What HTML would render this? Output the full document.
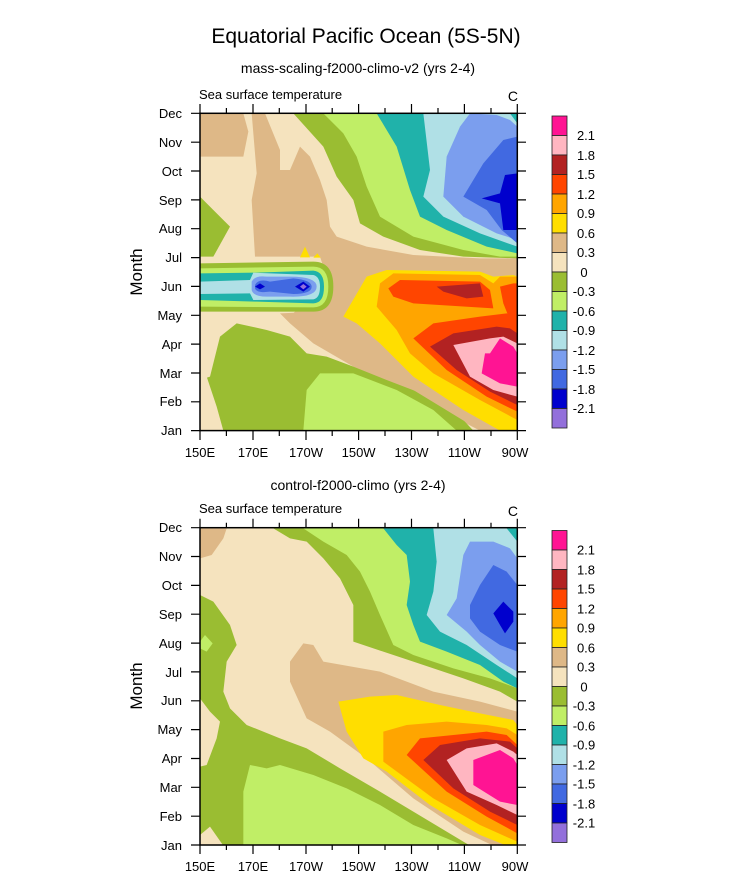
<!DOCTYPE html>
<html><head><meta charset="utf-8"><style>
html,body{margin:0;padding:0;background:#fff;}
svg{display:block;font-family:"Liberation Sans",Arial,sans-serif;}
</style></head><body>
<svg width="732" height="882" viewBox="0 0 732 882" xmlns="http://www.w3.org/2000/svg">
<defs>
<clipPath id="c1"><rect x="60" y="70" width="952" height="952"/></clipPath>
</defs>
<text x="366" y="43" font-size="21" text-anchor="middle">Equatorial Pacific Ocean (5S-5N)</text>
<text x="358" y="73" font-size="14" text-anchor="middle">mass-scaling-f2000-climo-v2 (yrs 2-4)</text>
<text x="358" y="490" font-size="14" text-anchor="middle">control-f2000-climo (yrs 2-4)</text>

<!-- TOP PLOT -->
<g transform="translate(180,90) scale(0.33333)">
<g clip-path="url(#c1)">
<rect x="60" y="70" width="952" height="952" fill="#F5E3BE"/>
<polygon fill="#DEB887" points="60,70 190,70 205,125 190,200 60,200"/>
<polygon fill="#DEB887" points="215,70 255,70 300,180 300,240 330,240 360,170 390,200 420,270 440,330 450,410 470,440 560,470 700,495 900,505 1012,505 1012,1022 900,1022 780,960 650,890 520,830 400,760 330,700 300,670 420,665 440,560 420,500 225,500 215,330 230,250"/>
<polygon fill="#9ABD32" points="60,320 100,360 150,410 100,500 60,500"/>
<polygon fill="#9ABD32" points="340,70 1012,70 1012,505 850,500 720,480 610,440 540,400 520,330 470,260 430,170"/>
<polygon fill="#C0EE66" points="430,70 1012,70 1012,500 960,500 850,480 700,440 600,380 560,290 530,200 490,130"/>
<polygon fill="#20B2AA" points="590,70 1012,70 1012,490 920,470 800,420 720,380 690,300 650,170"/>
<polygon fill="#B0E0E6" points="730,70 990,70 1012,100 1012,470 900,430 790,380 730,320 750,240"/>
<polygon fill="#7B9EEE" points="870,70 950,75 990,90 1012,110 1012,450 950,430 850,380 790,320 800,200 840,110"/>
<polygon fill="#4169E1" points="1012,140 970,150 910,220 850,320 920,360 965,420 1012,460"/>
<polygon fill="#0000CD" points="1012,250 975,255 960,310 905,325 960,340 970,420 1012,420"/>
<!-- lower left -->
<polygon fill="#9ABD32" points="60,1022 60,870 90,860 120,740 170,700 260,720 330,740 380,790 440,800 520,830 620,870 750,920 850,990 880,1022"/>
<polygon fill="#F5E3BE" points="60,850 80,860 110,950 130,1022 60,1022"/>
<polygon fill="#C0EE66" points="370,1022 380,900 420,850 520,850 650,900 760,960 830,1022"/>
<!-- warm -->
<polygon fill="#DEB887" points="340,670 440,560 560,540 800,525 1012,520 1012,1022 900,1022 700,900 500,790 400,720"/>
<polygon fill="#FFDE00" points="490,680 560,560 620,540 900,545 940,560 1000,555 1012,560 1012,1022 960,1022 850,960 700,860 600,760 530,700"/>
<polygon fill="#FFA500" points="600,580 640,550 900,555 940,580 960,560 1012,560 1012,990 900,930 760,850 690,790 650,720 590,650"/>
<polygon fill="#FF4500" points="625,595 660,570 900,575 930,600 940,655 700,640 640,620"/>
<polygon fill="#FF4500" points="960,590 1000,580 1012,580 1012,700 990,690 970,640"/>
<polygon fill="#FF4500" points="700,745 760,700 900,680 980,670 1012,680 1012,965 920,920 800,840"/>
<polygon fill="#B22222" points="750,770 820,730 950,710 990,715 1012,730 1012,945 930,905 830,840"/>
<polygon fill="#B22222" points="770,590 900,580 910,620 860,625 790,605"/>
<polygon fill="#FFB6C1" points="820,765 930,745 970,740 1012,760 1012,920 940,900 870,860"/>
<polygon fill="#FF1493" points="930,790 960,745 1000,770 1012,790 1012,890 960,880 905,850 915,790"/>
<!-- Jun band -->
<path fill="#9ABD32" d="M60,520 L400,515 Q460,515 460,590 Q460,665 400,665 L60,665 Z"/>
<path fill="#C0EE66" d="M60,535 L400,530 Q445,530 445,590 Q445,652 400,652 L60,650 Z"/>
<path fill="#20B2AA" d="M60,550 L230,548 L400,542 Q432,545 432,590 Q432,640 400,640 L230,635 L60,630 Z"/>
<path fill="#B0E0E6" d="M60,575 L210,570 L220,548 L400,555 Q420,560 420,590 Q420,625 400,628 L220,630 L210,610 L60,612 Z"/>
<path fill="#7B9EEE" d="M215,575 Q225,555 260,560 L330,560 Q410,560 410,590 Q410,622 330,620 L260,620 Q220,620 215,600 Z"/>
<path fill="#4169E1" d="M225,585 Q235,565 270,575 L340,565 Q395,570 395,590 Q395,612 340,612 L270,605 Q230,610 225,595 Z"/>
<polygon fill="#0000CD" points="225,590 240,580 255,590 240,598"/>
<polygon fill="#0000CD" points="345,590 370,575 390,590 370,605"/>
<polygon fill="#9370DB" points="360,590 370,582 380,590 370,598"/>
<polygon fill="#FFDE00" points="360,502 375,470 390,502"/>
<polygon fill="#FFDE00" points="400,503 412,490 422,503"/>
</g>
</g>

<!-- BOTTOM PLOT -->
<g transform="translate(180,505) scale(0.33333)">
<g clip-path="url(#c1)">
<rect x="60" y="70" width="952" height="952" fill="#F5E3BE"/>
<polygon fill="#DEB887" points="60,70 140,70 130,100 95,150 60,160"/>
<polygon fill="#9ABD32" points="280,70 1012,70 1012,590 960,560 850,520 700,470 520,410 520,300 480,220 430,160 380,110 330,100"/>
<polygon fill="#C0EE66" points="370,70 1012,70 1012,550 930,520 820,490 700,450 640,420 600,330 570,260 540,200 500,150 430,110"/>
<polygon fill="#20B2AA" points="610,70 1012,70 1012,550 970,530 900,480 800,440 720,410 700,360 680,300 690,230 680,150 650,120"/>
<polygon fill="#B0E0E6" points="760,70 980,70 1012,110 1012,520 950,480 860,420 780,380 740,330 760,260 770,170"/>
<polygon fill="#7B9EEE" points="870,110 940,110 990,130 1012,160 1012,500 960,470 900,420 860,380 800,330 830,280 850,150"/>
<polygon fill="#4169E1" points="940,180 980,200 1012,240 1012,440 960,420 900,380 870,340 870,300 900,240"/>
<polygon fill="#0000CD" points="970,290 1000,320 1000,350 975,385 960,360 940,325"/>
<polygon fill="#9ABD32" points="60,270 100,290 150,360 170,420 140,470 130,560 150,610 200,660 300,700 380,730 480,790 600,860 700,920 800,980 870,1022 60,1022"/>
<polygon fill="#F5E3BE" points="60,580 90,620 120,650 110,700 80,780 60,785"/>
<polygon fill="#F5E3BE" points="60,1022 60,990 90,965 130,1022"/>
<polygon fill="#C0EE66" points="60,410 75,390 98,415 80,440 60,430"/>
<polygon fill="#C0EE66" points="190,1022 190,860 210,780 260,790 300,780 400,810 500,850 600,900 700,960 800,1000 850,1022"/>
<polygon fill="#DEB887" points="370,415 400,420 430,470 600,500 760,560 900,590 1012,620 1012,1022 940,1022 850,980 700,880 560,760 450,680 380,640 330,530 330,470"/>
<polygon fill="#FFDE00" points="475,590 570,575 650,570 780,600 900,625 1000,645 1012,660 1012,1022 980,1022 900,990 750,900 620,800 550,760 500,680"/>
<polygon fill="#FFA500" points="610,680 680,660 800,650 920,660 980,670 1012,690 1012,1010 900,960 760,880 610,770"/>
<polygon fill="#FF4500" points="680,750 720,700 820,690 920,680 980,690 1012,720 1012,985 920,935 800,860"/>
<polygon fill="#B22222" points="730,765 780,720 900,700 990,710 1012,730 1012,960 930,920 820,850"/>
<polygon fill="#FFB6C1" points="800,765 860,730 950,715 1000,740 1012,750 1012,930 950,900 860,860"/>
<polygon fill="#FF1493" points="880,765 960,735 1000,760 1012,780 1012,900 960,890 880,840"/>
</g>
</g>

<!-- axes frames, ticks, labels -->
<g id="ax1" stroke="#000" fill="none">
<rect x="200" y="113.3" width="317.3" height="317.3" stroke-width="1.5"/>
<rect x="200" y="527.7" width="317.3" height="317.3" stroke-width="1.5"/>
</g>
<g stroke="#000" stroke-width="1.2">
<!-- top plot x ticks -->
<path d="M200,431v9M253,431v9M306,431v9M358.6,431v9M411.5,431v9M464.4,431v9M517.3,431v9
M226.4,431v5M279.3,431v5M332.2,431v5M385,431v5M438,431v5M491,431v5
M200,113v-9M253,113v-9M306,113v-9M358.6,113v-9M411.5,113v-9M464.4,113v-9M517.3,113v-9
M226.4,113v-5M279.3,113v-5M332.2,113v-5M385,113v-5M438,113v-5M491,113v-5"/>
<path d="M200,845v9M253,845v9M306,845v9M358.6,845v9M411.5,845v9M464.4,845v9M517.3,845v9
M226.4,845v5M279.3,845v5M332.2,845v5M385,845v5M438,845v5M491,845v5
M200,527.7v-9M253,527.7v-9M306,527.7v-9M358.6,527.7v-9M411.5,527.7v-9M464.4,527.7v-9M517.3,527.7v-9
M226.4,527.7v-5M279.3,527.7v-5M332.2,527.7v-5M385,527.7v-5M438,527.7v-5M491,527.7v-5"/>
<!-- y ticks -->
<path d="M191,113.3h9M191,142.2h9M191,171h9M191,199.9h9M191,228.7h9M191,257.6h9M191,286.4h9M191,315.3h9M191,344.1h9M191,373h9M191,401.8h9M191,430.6h9
M517,113.3h9M517,142.2h9M517,171h9M517,199.9h9M517,228.7h9M517,257.6h9M517,286.4h9M517,315.3h9M517,344.1h9M517,373h9M517,401.8h9M517,430.6h9"/>
<path d="M191,527.7h9M191,556.5h9M191,585.4h9M191,614.2h9M191,643.1h9M191,671.9h9M191,700.8h9M191,729.6h9M191,758.5h9M191,787.3h9M191,816.2h9M191,845h9
M517,527.7h9M517,556.5h9M517,585.4h9M517,614.2h9M517,643.1h9M517,671.9h9M517,700.8h9M517,729.6h9M517,758.5h9M517,787.3h9M517,816.2h9M517,845h9"/>
</g>
<g font-size="13" text-anchor="end">
<text x="182" y="118">Dec</text><text x="182" y="147">Nov</text><text x="182" y="176">Oct</text><text x="182" y="205">Sep</text><text x="182" y="233">Aug</text><text x="182" y="262">Jul</text><text x="182" y="291">Jun</text><text x="182" y="320">May</text><text x="182" y="349">Apr</text><text x="182" y="378">Mar</text><text x="182" y="406">Feb</text><text x="182" y="435">Jan</text>
<text x="182" y="532">Dec</text><text x="182" y="561">Nov</text><text x="182" y="590">Oct</text><text x="182" y="619">Sep</text><text x="182" y="648">Aug</text><text x="182" y="677">Jul</text><text x="182" y="705">Jun</text><text x="182" y="734">May</text><text x="182" y="763">Apr</text><text x="182" y="792">Mar</text><text x="182" y="821">Feb</text><text x="182" y="850">Jan</text>
</g>
<g font-size="13" text-anchor="middle">
<text x="200" y="457">150E</text><text x="253" y="457">170E</text><text x="306" y="457">170W</text><text x="358.6" y="457">150W</text><text x="411.5" y="457">130W</text><text x="464.4" y="457">110W</text><text x="515" y="457">90W</text>
<text x="200" y="871">150E</text><text x="253" y="871">170E</text><text x="306" y="871">170W</text><text x="358.6" y="871">150W</text><text x="411.5" y="871">130W</text><text x="464.4" y="871">110W</text><text x="515" y="871">90W</text>
</g>
<text transform="translate(142,272) rotate(-90)" font-size="17" text-anchor="middle">Month</text>
<text transform="translate(142,686) rotate(-90)" font-size="17" text-anchor="middle">Month</text>
<text x="199" y="99" font-size="13">Sea surface temperature</text>
<text x="518" y="101" font-size="14" text-anchor="end">C</text>
<text x="199" y="513" font-size="13">Sea surface temperature</text>
<text x="518" y="516" font-size="14" text-anchor="end">C</text>

<!-- colorbars -->
<g stroke="#222" stroke-width="0.8">
<g id="cb">
<rect x="552" y="116" width="15" height="19.5" fill="#FF1493"/>
<rect x="552" y="135.5" width="15" height="19.5" fill="#FFB6C1"/>
<rect x="552" y="155" width="15" height="19.5" fill="#B22222"/>
<rect x="552" y="174.5" width="15" height="19.5" fill="#FF4500"/>
<rect x="552" y="194" width="15" height="19.5" fill="#FFA500"/>
<rect x="552" y="213.5" width="15" height="19.5" fill="#FFDE00"/>
<rect x="552" y="233" width="15" height="19.5" fill="#DEB887"/>
<rect x="552" y="252.5" width="15" height="19.5" fill="#F5E3BE"/>
<rect x="552" y="272" width="15" height="19.5" fill="#9ABD32"/>
<rect x="552" y="291.5" width="15" height="19.5" fill="#C0EE66"/>
<rect x="552" y="311" width="15" height="19.5" fill="#20B2AA"/>
<rect x="552" y="330.5" width="15" height="19.5" fill="#B0E0E6"/>
<rect x="552" y="350" width="15" height="19.5" fill="#7B9EEE"/>
<rect x="552" y="369.5" width="15" height="19.5" fill="#4169E1"/>
<rect x="552" y="389" width="15" height="19.5" fill="#0000CD"/>
<rect x="552" y="408.5" width="15" height="19.5" fill="#9370DB"/>
</g>
<use href="#cb" transform="translate(0,414.5)"/>
</g>
<g font-size="13" text-anchor="middle" id="cbl">
<text x="586" y="140">2.1</text><text x="586" y="160">1.8</text><text x="586" y="179">1.5</text><text x="586" y="199">1.2</text><text x="586" y="218">0.9</text><text x="586" y="238">0.6</text><text x="586" y="257">0.3</text><text x="584" y="277">0</text><text x="584" y="296">-0.3</text><text x="584" y="316">-0.6</text><text x="584" y="335">-0.9</text><text x="584" y="355">-1.2</text><text x="584" y="374">-1.5</text><text x="584" y="394">-1.8</text><text x="584" y="413">-2.1</text>
</g>
<use href="#cbl" transform="translate(0,414.5)"/>
</svg>
</body></html>
